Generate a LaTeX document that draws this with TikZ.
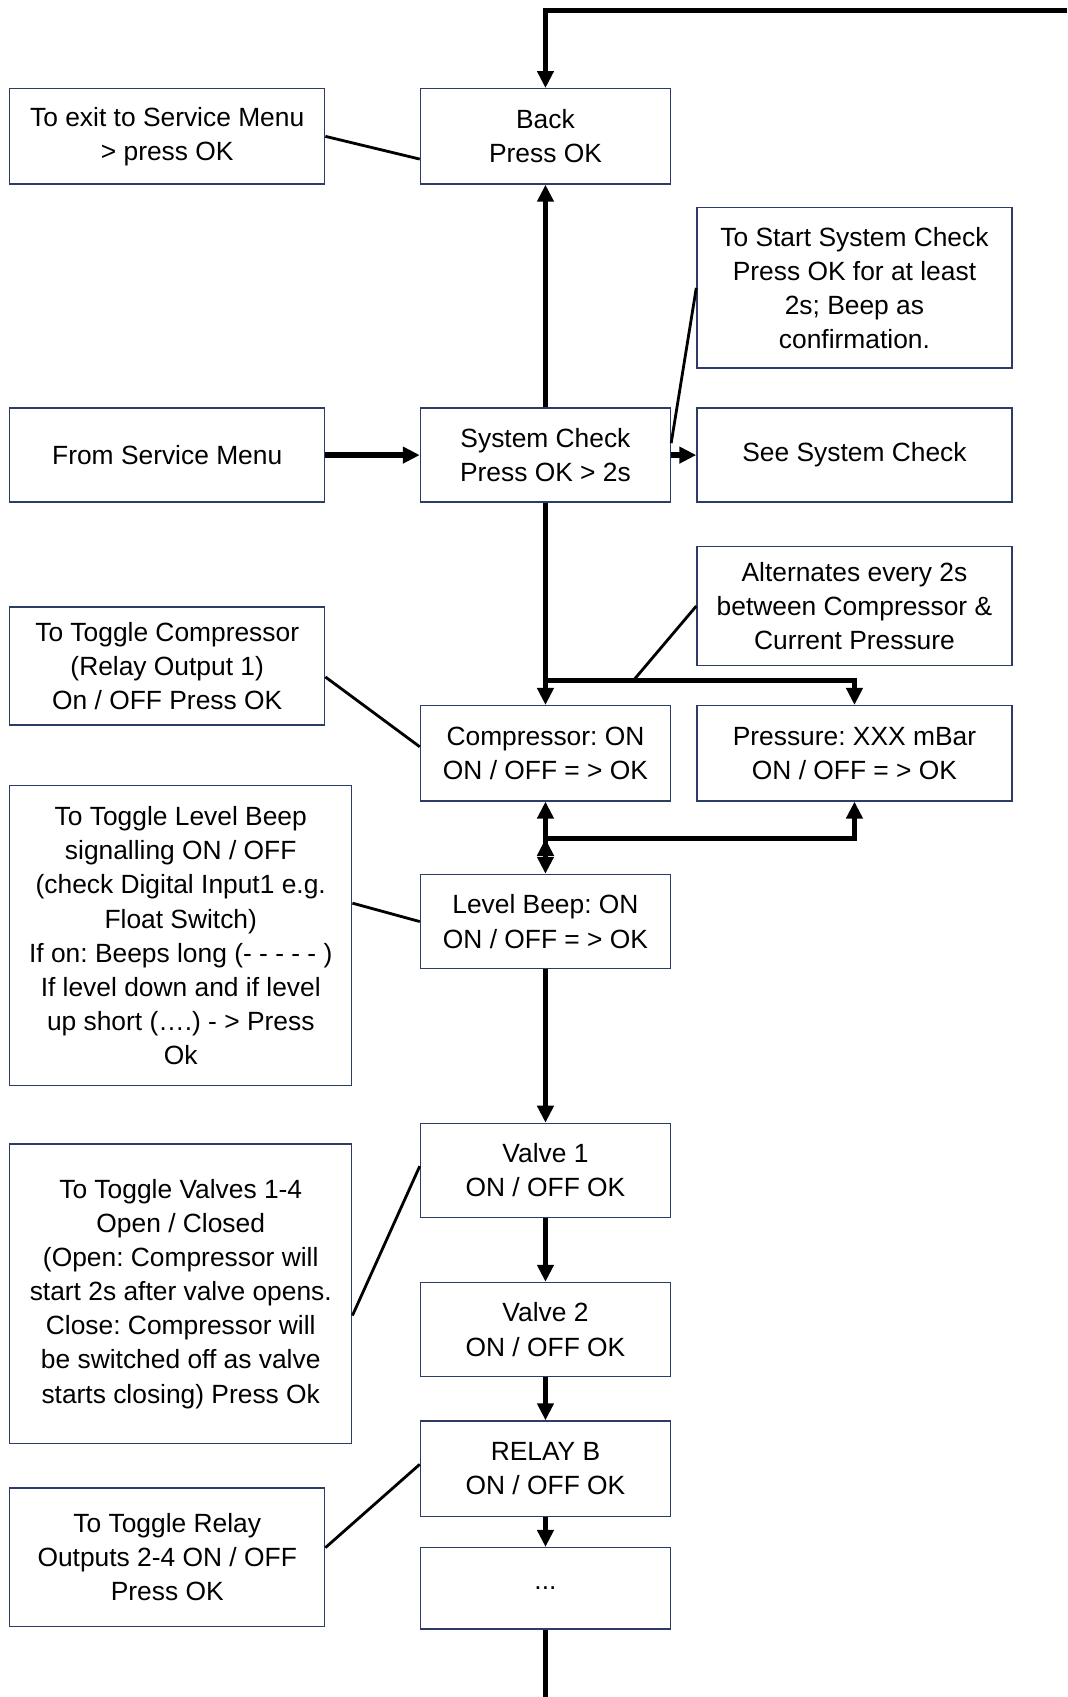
\documentclass[tikz,border=0pt]{standalone}
\usepackage{fontspec}
\setmainfont{Liberation Sans}
\frenchspacing
\usetikzlibrary{arrows.meta,calc}
\definecolor{boxline}{RGB}{45,60,100}
\def\pu{0.021644cm}
\tikzset{
  box/.style={draw=boxline, line width=0.8pt, align=center, inner sep=0pt,
    font=\fontsize{15}{19.4}\selectfont},
  menu/.style={box, minimum width=231*\pu, minimum height=88*\pu},
  note/.style={box, minimum width=291*\pu},
  flow/.style={line width=3pt, -{Triangle[length=0.34cm,width=0.32cm]}},
  trunk/.style={line width=3pt},
  hint/.style={line width=1.6pt}
}
\begin{document}
\begin{tikzpicture}[x=\pu, y=-\pu]
\useasboundingbox (0,0) rectangle (986,1568);

\node (0) at (154.5,126) [note, minimum height=88*\pu] {To exit to Service Menu\\> press OK};
\node (1) at (504,126) [menu] {Back\\Press OK};
\node (2) at (789.5,266) [note, minimum height=148*\pu] {To Start System Check\\Press OK for at least\\2s; Beep as\\confirmation.};
\node (3) at (154.5,420.5) [note, minimum height=87*\pu] {From Service Menu};
\node (4) at (504,420.5) [menu, minimum height=87*\pu] {System Check\\Press OK > 2s};
\node (5) at (789.5,420.5) [note, minimum height=87*\pu] {See System Check};
\node (6) at (789.5,560) [note, minimum height=110*\pu] {Alternates every 2s\\between Compressor \&\\Current Pressure};
\node (7) at (154.5,615.5) [note, minimum height=109*\pu] {To Toggle Compressor\\(Relay Output 1)\\On / OFF Press OK};
\node (8) at (504,696) [menu] {Compressor: ON\\ON / OFF = > OK};
\node (9) at (789.5,696) [note, minimum height=88*\pu] {Pressure: XXX mBar\\ON / OFF = > OK};
\node (10) at (167,864.5) [box, minimum width=316*\pu, minimum height=277*\pu] {To Toggle Level Beep\\signalling ON / OFF\\(check Digital Input1 e.g.\\Float Switch)\\If on: Beeps long (- - - - - )\\If level down and if level\\up short (….) - > Press\\Ok};
\node (11) at (504,851.5) [menu, minimum height=87*\pu] {Level Beep: ON\\ON / OFF = > OK};
\node (12) at (167,1195.5) [box, minimum width=316*\pu, minimum height=277*\pu] {To Toggle Valves 1-4\\Open / Closed\\(Open: Compressor will\\start 2s after valve opens.\\Close: Compressor will\\be switched off as valve\\starts closing) Press Ok};
\node (13) at (504,1081.5) [menu, minimum height=87*\pu] {Valve 1\\ON / OFF OK};
\node (14) at (504,1228.5) [menu, minimum height=87*\pu] {Valve 2\\ON / OFF OK};
\node (15) at (154.5,1439) [note, minimum height=128*\pu] {To Toggle Relay\\Outputs 2-4 ON / OFF\\Press OK};
\node (16) at (504,1357) [menu] {RELAY B\\ON / OFF OK};
\node (17) at (504,1467.5) [menu, minimum height=75*\pu] {...};

\coordinate (18) at (986,10);
\coordinate (19) at (504,1568);
\coordinate (20) at (504,629);
\coordinate (21) at (585,629);
\coordinate (22) at (504,775);

\draw[flow]
(4) edge (1)
(3) edge (4)
(4) edge (5)
(20) edge (8)
(22) edge (8)
(22) edge (11)
(11) edge (13)
(13) edge (14)
(14) edge (16)
(16) edge (17);
\draw[flow] (18) -| (1);
\draw[flow] (20) -| (9);
\draw[flow] (22) -| (9);
\draw[trunk]
(4) to (20)
(17) to (19);
\draw[hint]
(0.east) to ($(1.west)+(0,21)$)
($(4.east)+(0,-11)$) to (2.west)
(6.west) to (21)
($(7.east)+(0,10)$) to ($(8.west)+(0,-6)$)
($(10.east)+(0,-30)$) to (11.west)
($(12.east)+(0,20)$) to ($(13.west)+(0,-4)$)
($(15.east)+(0,-9)$) to ($(16.west)+(0,-4)$);
\end{tikzpicture}
\end{document}
